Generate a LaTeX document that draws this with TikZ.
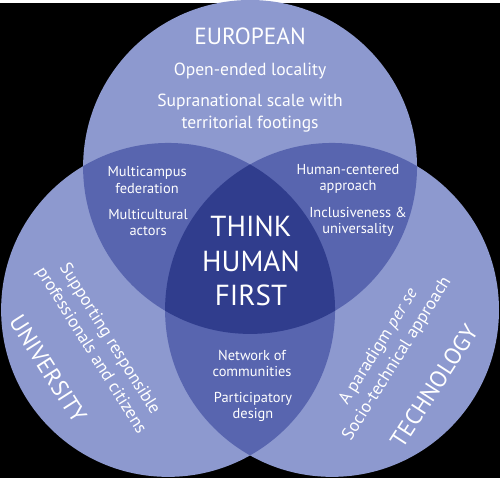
\documentclass[tikz,border=0pt]{standalone}
\usepackage{fontspec}
\setmainfont{PT Sans}
\definecolor{vennlight}{RGB}{141,153,207}
\definecolor{vennmid}{RGB}{88,101,175}
\definecolor{venndark}{RGB}{48,61,141}

\begin{document}
\begin{tikzpicture}[
  title/.style={text=white,font=\fontsize{13.3}{15}\selectfont,align=center},
  body/.style={text=white,font=\fontsize{10}{12.5}\selectfont,align=center},
  lens/.style={text=white,font=\fontsize{8.2}{9.3}\selectfont,align=center},
  core/.style={text=white,font=\fontsize{16.5}{19.8}\selectfont,align=center}
]
  \fill[black] (0,0) rectangle (10,9.5);
  \coordinate (eu)  at (5,6.22);
  \coordinate (uni) at (3.36,3.36);
  \coordinate (tec) at (6.64,3.36);
  \def\rad{3.34}

  \fill[vennlight] (eu) circle (\rad) (uni) circle (\rad) (tec) circle (\rad);
  \begin{scope}
    \clip (eu) circle (\rad);
    \fill[vennmid] (uni) circle (\rad) (tec) circle (\rad);
  \end{scope}
  \begin{scope}
    \clip (uni) circle (\rad);
    \fill[vennmid] (tec) circle (\rad);
    \clip (tec) circle (\rad);
    \fill[venndark] (eu) circle (\rad);
  \end{scope}

  \node[title](europe) at (5.0,8.84) {EUROPEAN};
  \node[body] (open)   at (5.0,8.14) {Open-ended locality};
  \node[body] (supra)  at (5.0,7.30) {Supranational scale with\\territorial footings};

  \node[lens] (multi)  at (2.94,5.96) {Multicampus\\federation};
  \node[lens] (cult)   at (2.96,5.11) {Multicultural\\actors};
  \node[lens] (human)  at (6.96,5.98) {Human-centered\\approach};
  \node[lens] (incl)   at (7.16,5.12) {Inclusiveness \&\\universality};
  \node[lens] (netw)   at (5.04,2.29) {Network of\\communities};
  \node[lens] (part)   at (5.06,1.42) {Participatory\\design};

  \node[core] (think)  at (5.02,4.34) {THINK\\HUMAN\\FIRST};

  \node[title,rotate=-57.5](univ) at (0.96,2.18) {UNIVERSITY};
  \node[body,rotate=-58]  (supp)  at (2.0,2.66) {Supporting responsible\\professionals and citizens};
  \node[title,rotate=57]  (techn) at (8.68,1.84) {TECHNOLOGY};
  \node[body,rotate=58]   (para)  at (7.76,2.5) {A paradigm \textit{per se}\\Socio-technical approach};
\end{tikzpicture}
\end{document}
